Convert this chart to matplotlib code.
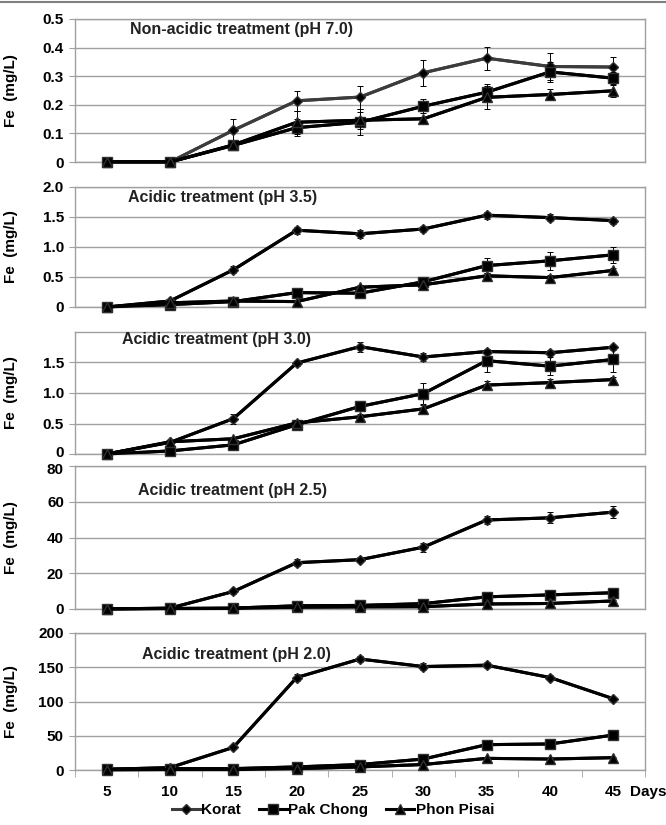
import numpy as np
import matplotlib
matplotlib.use("Agg")
import matplotlib.pyplot as plt
from matplotlib.lines import Line2D
from matplotlib.transforms import ScaledTranslation

plt.rcParams['font.family'] = ['Liberation Sans Narrow', 'Liberation Sans', 'DejaVu Sans']
plt.rcParams['font.weight'] = 'bold'

days = [5, 10, 15, 20, 25, 30, 35, 40, 45]
series_names = ["Korat", "Pak Chong", "Phon Pisai"]

# pH 7.0
korat_70 = [0, 0, 0.111, 0.214, 0.227, 0.312, 0.363, 0.334, 0.332]
korat_70_err = [0, 0, 0.038, 0.035, 0.04, 0.045, 0.04, 0.048, 0.035]
pak_70 = [0, 0, 0.058, 0.12, 0.139, 0.195, 0.244, 0.315, 0.293]
pak_70_err = [0, 0, 0.008, 0.03, 0.045, 0.025, 0.03, 0.035, 0.02]
phon_70 = [0, 0, 0.06, 0.139, 0.146, 0.151, 0.226, 0.236, 0.249]
phon_70_err = [0, 0, 0.005, 0.04, 0.03, 0.008, 0.04, 0.02, 0.02]

# pH 3.5
korat_35 = [0, 0.10, 0.62, 1.28, 1.22, 1.30, 1.53, 1.49, 1.44]
korat_35_err = [0, 0.02, 0.06, 0.06, 0.07, 0.05, 0.06, 0.06, 0.05]
pak_35 = [0, 0.04, 0.09, 0.24, 0.23, 0.42, 0.69, 0.77, 0.87]
pak_35_err = [0, 0.01, 0.03, 0.03, 0.03, 0.08, 0.12, 0.15, 0.13]
phon_35 = [0, 0.07, 0.10, 0.09, 0.33, 0.37, 0.52, 0.49, 0.61]
phon_35_err = [0, 0.04, 0.04, 0.02, 0.03, 0.03, 0.04, 0.04, 0.04]

# pH 3.0
korat_30 = [0, 0.19, 0.58, 1.49, 1.76, 1.59, 1.68, 1.66, 1.75]
korat_30_err = [0, 0.02, 0.08, 0.04, 0.08, 0.06, 0.04, 0.04, 0.04]
pak_30 = [0, 0.05, 0.15, 0.48, 0.78, 0.99, 1.53, 1.44, 1.55]
pak_30_err = [0, 0.01, 0.03, 0.06, 0.06, 0.17, 0.18, 0.15, 0.20]
phon_30 = [0, 0.20, 0.25, 0.51, 0.61, 0.74, 1.13, 1.17, 1.22]
phon_30_err = [0, 0.02, 0.02, 0.05, 0.04, 0.06, 0.06, 0.06, 0.05]

# pH 2.5
korat_25 = [0, 0.5, 9.8, 25.9, 27.6, 34.6, 49.8, 51.0, 54.2]
korat_25_err = [0, 0.5, 1.5, 2.0, 1.5, 2.5, 2.5, 3.0, 3.5]
pak_25 = [0, 0.3, 0.5, 1.8, 2.0, 3.0, 6.8, 7.9, 9.1]
pak_25_err = [0, 0.2, 0.2, 0.5, 0.5, 0.6, 0.8, 0.8, 0.8]
phon_25 = [0, 0.2, 0.3, 1.0, 1.2, 1.3, 2.8, 3.1, 4.5]
phon_25_err = [0, 0.2, 0.2, 0.3, 0.3, 0.3, 0.5, 0.5, 0.6]

# pH 2.0
korat_20 = [1, 3.5, 33, 135, 162, 151, 153, 135, 104]
korat_20_err = [0.5, 1.0, 3, 5, 4, 5, 4, 4, 3]
pak_20 = [1, 2, 2, 4.5, 8, 16, 37, 38, 51]
pak_20_err = [0.3, 0.5, 0.5, 1, 1, 1.5, 2, 2, 2]
phon_20 = [0, 0.5, 0.5, 2, 4.5, 8, 17, 16, 18]
phon_20_err = [0.2, 0.2, 0.2, 0.5, 0.5, 1, 1, 1, 1]

titles = ["Non-acidic treatment (pH 7.0)", "Acidic treatment (pH 3.5)",
          "Acidic treatment (pH 3.0)", "Acidic treatment (pH 2.5)",
          "Acidic treatment (pH 2.0)"]
ylims = [0.5, 2.0, 2.0, 80, 200]
yticks = [[0, 0.1, 0.2, 0.3, 0.4, 0.5], [0, 0.5, 1.0, 1.5, 2.0],
          [0, 0.5, 1.0, 1.5], [0, 20, 40, 60, 80], [0, 50, 100, 150, 200]]
yticklabels = [["0", "0.1", "0.2", "0.3", "0.4", "0.5"], ["0", "0.5", "1.0", "1.5", "2.0"],
               ["0", "0.5", "1.0", "1.5"], ["0", "20", "40", "60", "80"],
               ["0", "50", "100", "150", "200"]]

panels = [
    [(korat_70, korat_70_err), (pak_70, pak_70_err), (phon_70, phon_70_err)],
    [(korat_35, korat_35_err), (pak_35, pak_35_err), (phon_35, phon_35_err)],
    [(korat_30, korat_30_err), (pak_30, pak_30_err), (phon_30, phon_30_err)],
    [(korat_25, korat_25_err), (pak_25, pak_25_err), (phon_25, phon_25_err)],
    [(korat_20, korat_20_err), (pak_20, pak_20_err), (phon_20, phon_20_err)],
]

# axes boxes in pixels (top, bottom) of the 666x825 canvas
W, H = 666, 825
x0, x1 = 75, 645
boxes = [(19, 162), (187, 307), (332, 454), (466, 609), (633, 770)]
title_y = [30, 198, 340, 491, 655]
title_x = [130, 128, 122, 138, 142]

markers = ["D", "s", "^"]
msizes = [5.5, 7, 7.5]
gray = "#a0a0a0"

fig = plt.figure(figsize=(W / 100, H / 100), dpi=100)
fig.add_artist(Line2D([0, 1], [1 - 1.5 / H, 1 - 1.5 / H], color="#808080", lw=1.5))

handles = []
axes = []
for i, (top, bot) in enumerate(boxes):
    ax = fig.add_axes([x0 / W, 1 - bot / H, (x1 - x0) / W, (bot - top) / H])
    axes.append(ax)
    for j, (vals, errs) in enumerate(panels[i]):
        col = "#3c3c3c" if (i == 0 and j == 0) else "black"
        ax.errorbar(days, vals, yerr=errs, color=col, lw=2.2, ecolor="black",
                    elinewidth=0.7, capsize=2.5, capthick=0.7, zorder=3 + j)
        h, = ax.plot(days, vals, color=col, lw=2.2, marker=markers[j], ms=msizes[j],
                     mfc="black", mec="#303030", clip_on=False, zorder=4 + j)
        if i == 0:
            handles.append(h)
    ax.set_xlim(2.5, 47.5)
    ax.set_ylim(0, ylims[i])
    ax.set_yticks(yticks[i])
    ax.set_yticklabels(yticklabels[i], fontsize=11, fontweight="bold")
    ax.grid(axis="y", color=gray, lw=1)
    ax.set_axisbelow(True)
    for s in ax.spines.values():
        s.set_color(gray)
        s.set_linewidth(1)
    ax.tick_params(axis="y", length=4, color=gray, pad=4)
    ax.set_ylabel("Fe  (mg/L)", fontsize=11, fontweight="bold",
                  family=["Liberation Sans", "DejaVu Sans"])
    ax.yaxis.set_label_coords(-0.1, 0.5)
    ax.text((title_x[i] - x0) / (x1 - x0), (bot - title_y[i]) / (bot - top), titles[i],
            transform=ax.transAxes, fontsize=11.5, fontweight="bold", color="#222222",
            ha="left", va="center")
    if i < 4:
        ax.set_xticks([])
    else:
        ax.set_xticks(days)
        ax.set_xticklabels([str(d) for d in days], fontsize=11, fontweight="bold")
        ax.set_xticks(np.arange(2.5, 48, 5), minor=True)
        ax.tick_params(axis="x", which="major", length=0, pad=10.5)
        ax.tick_params(axis="x", which="minor", length=5, color=gray)
        ax.text(46.35, -0.16, "Days", transform=ax.get_xaxis_transform(),
                fontsize=11, fontweight="bold", ha="left", va="center")

# nudge the two crowded labels between panels 3 and 4 apart a little
lbl = axes[2].get_yticklabels()[0]
lbl.set_transform(lbl.get_transform() + ScaledTranslation(0, 2 / 72, fig.dpi_scale_trans))
lbl = axes[3].get_yticklabels()[-1]
lbl.set_transform(lbl.get_transform() + ScaledTranslation(0, -2 / 72, fig.dpi_scale_trans))

fig.legend(handles, series_names, loc="center", bbox_to_anchor=(0.5, 1 - 810 / H),
           ncol=3, frameon=False, prop={"size": 11, "weight": "bold"},
           handlelength=1.8, handletextpad=0.1, columnspacing=1.2)

fig.savefig("out.png", dpi=100)
